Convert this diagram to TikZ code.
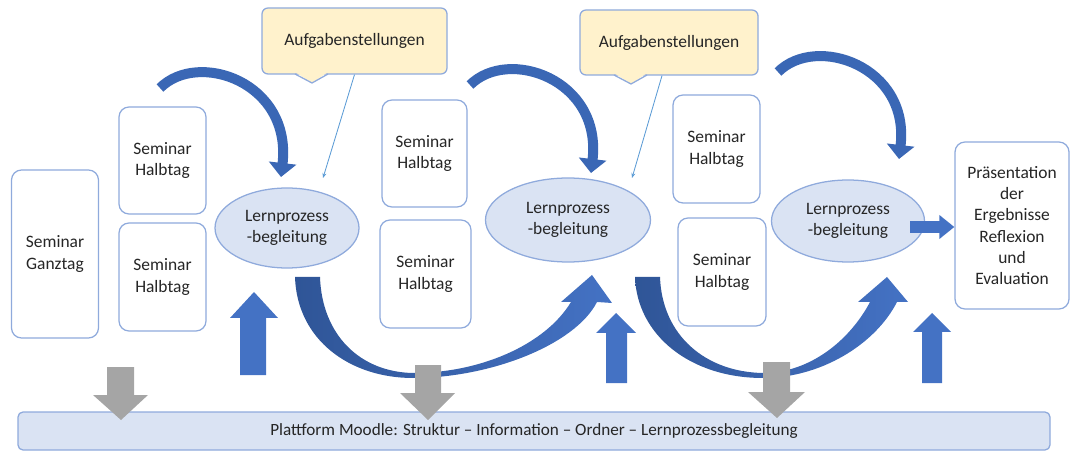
\documentclass[tikz,border=0pt]{standalone}
\usepackage{fontspec}
\setmainfont{Carlito}
\usetikzlibrary{arrows.meta,shapes.geometric}
\newlength\pxu \setlength\pxu{0.025cm}
\definecolor{bdr}{HTML}{8FAADC}
\definecolor{efill}{HTML}{DAE3F3}
\definecolor{cfill}{HTML}{FFF2CC}
\definecolor{dblue}{HTML}{2F5597}
\definecolor{mblue}{HTML}{4472C4}
\definecolor{arcblue}{HTML}{3A67B5}
\definecolor{gry}{HTML}{A5A5A5}
\definecolor{txt}{HTML}{262626}
\definecolor{thinblue}{HTML}{5B9BD5}
\begin{document}
\begin{tikzpicture}[x=0.025cm,y=-0.025cm,
  every node/.style={font=\fontsize{12.4}{15}\selectfont, text=txt, align=center, inner sep=0pt},
  sembox/.style={rectangle, draw=bdr, line width=0.9pt, rounded corners=0.25cm, fill=white},
  lpb/.style={ellipse, draw=bdr, line width=0.9pt, fill=efill},
  callout/.style={rectangle, draw=bdr, line width=0.9pt, fill=cfill, rounded corners=0.15cm},
  barbox/.style={rectangle, draw=bdr, line width=0.9pt, fill=efill, rounded corners=0.125cm},
  thinline/.style={draw=thinblue, line width=0.6pt, -{Stealth[length=0.125cm,width=0.1cm]}},
  arcarrow/.style={draw=arcblue, line width=0.25cm, -{Triangle[width=0.675cm,length=0.35cm]}},
  uparrow/.style={fill=mblue},
  dnarrow/.style={fill=gry},
  uband/.style={left color=dblue, right color=mblue}
]
\useasboundingbox (0,0) rectangle (1072,452);

% bottom bar
\node[barbox, minimum width=1032*\pxu, minimum height=38*\pxu] (bar) at (534,431)
  {\fontsize{12.2}{15}\selectfont Plattform Moodle: Struktur -- Information -- Ordner -- Lernprozessbegleitung};

% seminar boxes
\node[sembox, minimum width=87*\pxu, minimum height=168*\pxu] (gz) at (55,254) {Seminar\\Ganztag};
\node[sembox, minimum width=87*\pxu, minimum height=107*\pxu] (h1) at (162.5,160.5) {Seminar\\Halbtag};
\node[sembox, minimum width=87*\pxu, minimum height=108*\pxu] (h2) at (162.5,277) {Seminar\\Halbtag};
\node[sembox, minimum width=85*\pxu, minimum height=107*\pxu] (h3) at (424.5,153.5) {Seminar\\Halbtag};
\node[sembox, minimum width=91*\pxu, minimum height=108*\pxu] (h4) at (425.5,274) {Seminar\\Halbtag};
\node[sembox, minimum width=87*\pxu, minimum height=108*\pxu] (h5) at (716.5,149) {Seminar\\Halbtag};
\node[sembox, minimum width=88*\pxu, minimum height=108*\pxu] (h6) at (722,272) {Seminar\\Halbtag};
\node[sembox, minimum width=114*\pxu, minimum height=167*\pxu] (pr) at (1012,225.5)
  {Präsentation\\der\\Ergebnisse\\Reflexion\\und\\Evaluation};

% ellipses
\node[lpb, minimum width=144*\pxu, minimum height=80*\pxu] (e1) at (287,228) {Lernprozess\\-begleitung};
\node[lpb, minimum width=165*\pxu, minimum height=84*\pxu] (e2) at (568,220) {Lernprozess\\-begleitung};
\node[lpb, minimum width=153*\pxu, minimum height=82*\pxu] (e3) at (848,221) {Lernprozess\\-begleitung};

% callouts
\node[callout, minimum width=185*\pxu, minimum height=66*\pxu] (a1) at (354.5,41) {Aufgabenstellungen};
\fill[cfill] (295,72) -- (312,83) -- (328,72) -- cycle;
\draw[bdr, line width=0.9pt] (295,74) -- (312,83) -- (328,74);
\node[callout, minimum width=178*\pxu, minimum height=65*\pxu] (a2) at (669,42.5) {Aufgabenstellungen};
\fill[cfill] (614,73) -- (631,84) -- (647,73) -- cycle;
\draw[bdr, line width=0.9pt] (614,75) -- (631,84) -- (647,75);

\coordinate (t1) at (323,178);
\coordinate (t2) at (632,178);
\draw[thinline] (a1.south) -- (t1);
\draw[thinline] ([xshift=-0.175cm]a2.south) -- (t2);

% top curved arrows
\draw[arcarrow] (160,88) .. controls (198,50) and (292,82) .. (281,177);
\draw[arcarrow] (470,85) .. controls (508,47) and (602,79) .. (591,173);
\draw[arcarrow] (778,72) .. controls (816,34) and (910,66) .. (899,159);

% bottom U arrows
\shade[uband] (295,277) .. controls (297,340) and (350,378) .. (413,378)
  .. controls (490,378) and (575,345) .. (597,302) -- (612,303) -- (592,275) -- (561,302) -- (571,302)
  .. controls (545,345) and (480,373) .. (413,373) .. controls (360,372) and (322,335) .. (320,277) -- cycle;
\shade[uband] (635,277) .. controls (637,335) and (690,378) .. (763,378)
  .. controls (820,378) and (875,345) .. (897,302) -- (908,302) -- (887,277) -- (858,302) -- (870,302)
  .. controls (850,340) and (810,373) .. (763,373) .. controls (705,372) and (662,335) .. (660,277) -- cycle;

% straight up arrows
\fill[uparrow] (240,375) -- (240,318) -- (230,318) -- (254,292) -- (278,318) -- (266,318) -- (266,375) -- cycle;
\fill[uparrow] (606,383) -- (606,333) -- (596,333) -- (616,313) -- (636,333) -- (627,333) -- (627,383) -- cycle;
\fill[uparrow] (922,383) -- (922,332) -- (913,332) -- (932,313) -- (951,332) -- (942,332) -- (942,383) -- cycle;

% gray down arrows
\fill[dnarrow] (107,367) -- (134,367) -- (134,395) -- (148,395) -- (121,420) -- (93,395) -- (107,395) -- cycle;
\fill[dnarrow] (415,365) -- (441,365) -- (441,393) -- (455,393) -- (428,420) -- (400,393) -- (415,393) -- cycle;
\fill[dnarrow] (763,362) -- (790,362) -- (790,392) -- (805,392) -- (777,418) -- (748,392) -- (763,392) -- cycle;

% arrow to presentation
\coordinate (rs) at ([xshift=-0.375cm,yshift=-0.15cm]e3.east);
\draw[mblue, line width=0.3cm, -{Triangle[width=0.575cm,length=0.375cm]}] (rs) -- (pr.west |- rs);
\end{tikzpicture}
\end{document}
